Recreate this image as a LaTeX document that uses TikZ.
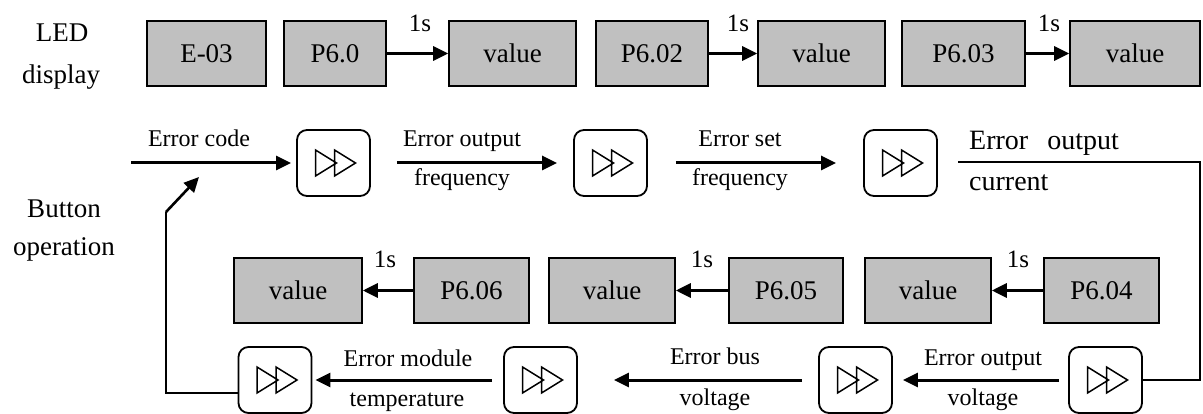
\documentclass[tikz,border=0pt]{standalone}
\usepackage{fontspec}
\setmainfont{Liberation Serif}
\usetikzlibrary{arrows.meta}
\definecolor{boxgray}{RGB}{192,192,192}
\begin{document}
\begin{tikzpicture}[x=1pt,y=-1pt,
  led/.style={draw=black, line width=1.6pt, fill=boxgray, minimum height=65pt, inner sep=0pt,
    font=\fontsize{27}{32}\selectfont, text height=18pt, text depth=0pt},
  btn/.style={draw=black, line width=1.8pt, rounded corners=10pt, minimum width=73pt, minimum height=66pt, inner sep=0pt},
  arr/.style={line width=3pt, -{Triangle[length=15pt,width=14pt]}},
  loopline/.style={line width=1.8pt},
  lbl/.style={anchor=base, font=\fontsize{24}{28}\selectfont, inner sep=0pt},
  big/.style={anchor=base, font=\fontsize{27}{32}\selectfont, inner sep=0pt},
  cur/.style={anchor=base west, font=\fontsize{28}{32}\selectfont, inner sep=0pt},
  sec/.style={anchor=base, font=\fontsize{25}{30}\selectfont, inner sep=0pt},
  ffw/.pic={\draw[line width=1.5pt, line join=miter]
     (-18,-13) -- (3,0) -- (-18,13) -- cycle
     (1,-13) -- (22,0) -- (1,13) -- cycle;}
]
\path[use as bounding box, fill=white] (0,0) rectangle (1203,414);

% side labels
\node[big] (led1) at (62,42) {LED};
\node[big] (led2) at (61,83.5) {display};
\node[big] (bo1) at (64,218) {Button};
\node[big] (bo2) at (64,256) {operation};

% top LED row
\node[led, minimum width=119pt] (e03) at (206.5,53.5) {E-03};
\node[led, minimum width=102pt] (p60) at (335,53.5) {P6.0};
\node[led, minimum width=127pt] (v1) at (512.5,53.5) {value};
\node[led, minimum width=112pt] (p602) at (652,53.5) {P6.02};
\node[led, minimum width=127pt] (v2) at (821.5,53.5) {value};
\node[led, minimum width=123pt] (p603) at (963.5,53.5) {P6.03};
\node[led, minimum width=130pt] (v3) at (1135,53.5) {value};
\draw[arr] (p60.east) -- (v1.west);
\draw[arr] (p602.east) -- (v2.west);
\draw[arr] (p603.east) -- (v3.west);
\node[sec] (s1) at (420,32) {1s};
\node[sec] (s2) at (738,32) {1s};
\node[sec] (s3) at (1049,32) {1s};

% lower LED row
\node[led, minimum width=128pt] (v6) at (298,290.5) {value};
\node[led, minimum width=115pt] (p606) at (471.5,290.5) {P6.06};
\node[led, minimum width=126pt] (v5) at (612,290.5) {value};
\node[led, minimum width=114pt] (p605) at (786,290.5) {P6.05};
\node[led, minimum width=126pt] (v4) at (928,290.5) {value};
\node[led, minimum width=115pt] (p604) at (1101.5,290.5) {P6.04};
\draw[arr] (p606.west) -- (v6.east);
\draw[arr] (p605.west) -- (v5.east);
\draw[arr] (p604.west) -- (v4.east);
\node[sec] (s4) at (385,268) {1s};
\node[sec] (s5) at (702,268) {1s};
\node[sec] (s6) at (1018,268) {1s};

% buttons
\node[btn] (b1) at (333.5,163) {};
\node[btn] (b2) at (610.5,163) {};
\node[btn] (b3) at (900.5,163) {};
\node[btn] (ba) at (275,380) {};
\node[btn] (bb) at (540.5,380) {};
\node[btn] (bc) at (855.5,380) {};
\node[btn] (bd) at (1105.5,380) {};
\pic at (b1) {ffw};
\pic at (b2) {ffw};
\pic at (b3) {ffw};
\pic at (ba) {ffw};
\pic at (bb) {ffw};
\pic at (bc) {ffw};
\pic at (bd) {ffw};

% button row arrows
\coordinate (s0) at (131,163);
\draw[arr, shorten >=5pt] (s0) -- (b1.west);
\draw[arr, shorten <=26pt, shorten >=16pt] (b1.east) -- (b2.west);
\draw[arr, shorten <=28pt, shorten >=27pt] (b2.east) -- (b3.west);
\draw[arr, shorten <=9pt, shorten >=10pt] (bd.west) -- (bc.east);
\draw[arr, shorten <=16pt, shorten >=36pt] (bc.west) -- (bb.east);
\draw[arr, shorten <=11pt, shorten >=3pt] (bb.west) -- (ba.east);

% loops
\coordinate (l1) at (166,393);
\coordinate (l2) at (166,212);
\coordinate (l3) at (199,177);
\draw[loopline] ([yshift=-13pt]ba.west) -- (l1) -- (l2);
\draw[line width=2.6pt, -{Triangle[length=15pt,width=14pt]}] (l2) -- (l3);
\coordinate (r0) at (958,162);
\coordinate (r1) at (1200,162);
\coordinate (r2) at (1200,380);
\draw[loopline] (r0) -- (r1) -- (r2) -- (bd.east);

% labels
\node[lbl] (lc) at (199,147) {Error code};
\node[lbl] (lof1) at (462,147) {Error output};
\node[lbl] (lof2) at (462,186) {frequency};
\node[lbl] (lsf1) at (740,147) {Error set};
\node[lbl] (lsf2) at (740,186) {frequency};
\node[cur] (loc1) at (969,150) {Error\hspace{19pt}output};
\node[cur] (loc2) at (969,191) {current};
\node[lbl] (lmt1) at (408,366) {Error module};
\node[lbl] (lmt2) at (407,406) {temperature};
\node[lbl] (lbv1) at (715,364) {Error bus};
\node[lbl] (lbv2) at (715,405) {voltage};
\node[lbl] (lov1) at (983,365) {Error output};
\node[lbl] (lov2) at (983,405) {voltage};
\end{tikzpicture}
\end{document}
